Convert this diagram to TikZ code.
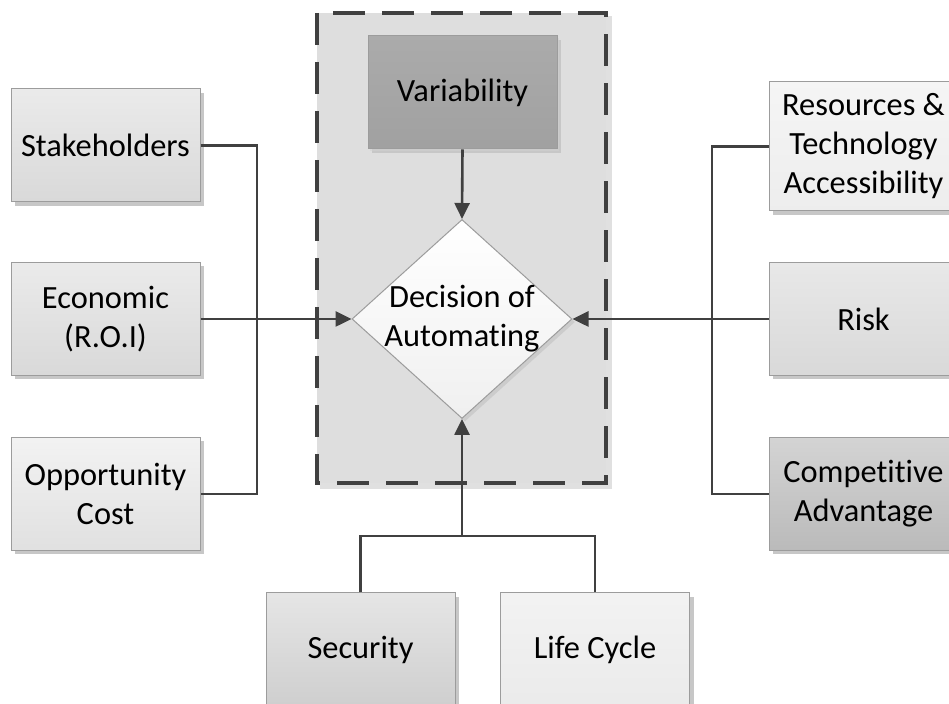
\documentclass[tikz,border=0pt]{standalone}
\usepackage{fontspec}
\setmainfont[Ligatures=NoCommon]{Carlito}
\usetikzlibrary{shapes.geometric,shadows,arrows.meta}

\definecolor{linegray}{HTML}{404040}
\definecolor{edgegray}{HTML}{9C9C9C}

\begin{document}
\begin{tikzpicture}[x=0.5pt,y=-0.5pt,
    factor/.style={draw=edgegray,line width=0.5pt,minimum width=94.5pt,minimum height=56.5pt,
      align=center,inner sep=2pt,font=\fontsize{16.2}{19.5}\selectfont,text=black,
      drop shadow={shadow xshift=2pt,shadow yshift=-2pt,fill=black!22,opacity=1}},
    link/.style={draw=linegray,line width=1.3pt},
    feed/.style={link,-{Triangle[length=8pt,width=7.5pt]}},
  ]
    \clip (0,0) rectangle (949,704);
    \fill[white] (0,0) rectangle (949,704);

    % scope of the decision
    \fill[black!12] (320,16) rectangle (612,489);
    \draw[fill=black!13,draw=linegray,line width=2pt,dash pattern=on 16pt off 8.5pt] (317,13) rectangle (606,483);

    % factors on the left
    \node[factor,top color=black!8,bottom color=black!15] (stake) at (105.5,145.5) {Stakeholders};
    \node[factor,top color=black!8,bottom color=black!15] (econ) at (105.5,319) {Economic\\(R.O.I)};
    \node[factor,top color=black!5,bottom color=black!12] (opp) at (105.5,494) {Opportunity\\Cost};

    % factors on the right
    \node[factor,minimum height=64.5pt,top color=black!4,bottom color=black!7] (res) at (863.5,146.5) {Resources \&\\Technology\\Accessibility};
    \node[factor,top color=black!9,bottom color=black!15] (risk) at (863.5,319) {Risk};
    \node[factor,top color=black!17,bottom color=black!27] (comp) at (863.5,494) {Competitive\\Advantage};

    % factors below
    \node[factor,top color=black!10,bottom color=black!19] (sec) at (360.5,649.5) {Security};
    \node[factor,top color=black!5,bottom color=black!8] (life) at (595,649.5) {Life Cycle};

    % inside the scope
    \node[factor,top color=black!33,bottom color=black!37,drop shadow={shadow xshift=1pt,shadow yshift=-1pt,fill=black!18}] (var) at (462.5,92.5) {Variability};
    \node[diamond,draw=edgegray,line width=0.5pt,minimum width=110pt,minimum height=99.5pt,inner sep=0pt,
      top color=white,bottom color=black!6,
      drop shadow={shadow xshift=1.5pt,shadow yshift=-1.5pt,fill=black!20,opacity=1},
      label={[align=center,font=\fontsize{16.2}{19.5}\selectfont,text=black]center:Decision of\\Automating}] (dec) at (462,319) {};

    % connectors
    \coordinate (lbus) at (257,319);
    \coordinate (rbus) at (712,319);
    \coordinate (bjoin) at (462,536);
    \draw[link] (stake.east) -| (lbus) |- (opp.east);
    \draw[link] (res.west) -| (rbus) |- (comp.west);
    \draw[link] (sec.north) |- (bjoin) -| (life.north);
    \draw[feed] (econ.east) -- (dec.west);
    \draw[feed] (risk.west) -- (dec.east);
    \draw[feed] (bjoin) -- (dec.south);
    \draw[feed] (var.south) -- (dec.north);
  \end{tikzpicture}
\end{document}
